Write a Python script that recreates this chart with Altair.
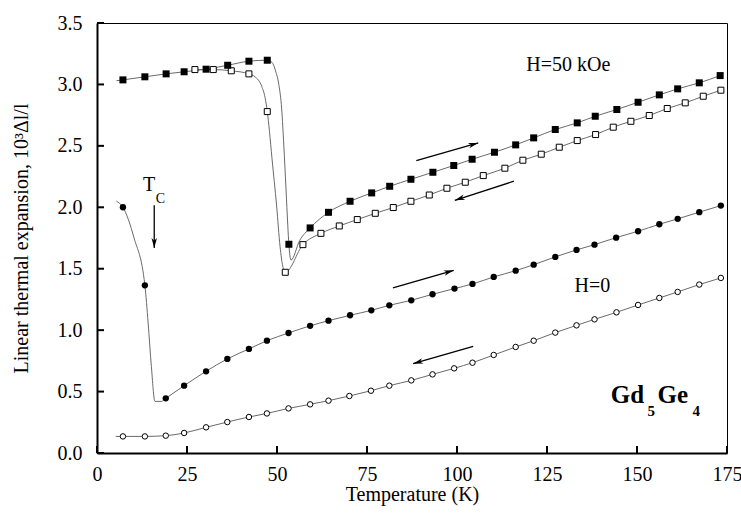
import math
import altair as alt
import pandas as pd

# ---------------- data ----------------
# H = 50 kOe, heating (filled squares)
h50_heat_T = [7.2, 13.3, 19.2, 24.2, 30.3, 36.3, 42.2, 47.3, 53.3, 59.2, 64.3, 70.3, 76.3, 81.3,
              87.2, 93.3, 99.1, 104.2, 110.4, 116.3, 121.3, 127.3, 133.4, 138.4, 144.4, 150.3,
              156.2, 161.3, 167.3, 173.1]
h50_heat_V = [3.037, 3.062, 3.086, 3.103, 3.124, 3.156, 3.189, 3.197, 1.699, 1.832, 1.959, 2.049,
              2.117, 2.171, 2.228, 2.285, 2.340, 2.391, 2.448, 2.508, 2.565, 2.633, 2.687, 2.741,
              2.796, 2.855, 2.915, 2.964, 3.013, 3.072]
# H = 50 kOe, cooling (open squares)
h50_cool_T = [27.2, 32.3, 37.3, 42.2, 47.3, 52.3, 57.2, 62.2, 67.3, 72.3, 77.3, 82.3, 87.2, 92.3,
              97.2, 102.3, 107.3, 113.3, 118.3, 123.4, 128.4, 133.4, 138.5, 143.4, 148.3, 153.4,
              158.4, 163.4, 168.4, 173.3]
h50_cool_V = [3.121, 3.121, 3.111, 3.086, 2.779, 1.471, 1.696, 1.788, 1.848, 1.900, 1.951, 1.998,
              2.049, 2.100, 2.155, 2.204, 2.258, 2.318, 2.383, 2.432, 2.489, 2.543, 2.592, 2.652,
              2.700, 2.747, 2.804, 2.850, 2.904, 2.953]
# H = 0, heating (filled circles)
h0_heat_T = [7.2, 13.3, 19.1, 24.2, 30.3, 36.2, 42.2, 47.2, 53.2, 59.2, 64.3, 70.3, 76.2, 81.2,
             87.3, 93.2, 99.3, 104.3, 110.2, 116.3, 121.3, 127.3, 133.2, 138.2, 144.2, 150.3,
             156.2, 161.3, 167.3, 173.3]
h0_heat_V = [2.000, 1.365, 0.445, 0.548, 0.665, 0.766, 0.847, 0.914, 0.977, 1.035, 1.077, 1.121,
             1.161, 1.202, 1.243, 1.292, 1.338, 1.376, 1.433, 1.484, 1.533, 1.596, 1.653, 1.696,
             1.753, 1.805, 1.862, 1.906, 1.960, 2.014]
# H = 0, cooling (open circles)
h0_cool_T = [7.2, 13.3, 19.1, 24.2, 30.3, 36.2, 42.2, 47.2, 53.2, 59.2, 64.3, 70.1, 76.1, 81.2,
             87.3, 93.2, 99.2, 104.3, 110.2, 116.3, 121.3, 127.3, 133.2, 138.2, 144.3, 150.3,
             156.2, 161.3, 167.3, 173.3]
h0_cool_V = [0.135, 0.135, 0.141, 0.163, 0.209, 0.252, 0.293, 0.322, 0.363, 0.396, 0.426, 0.464,
             0.507, 0.548, 0.591, 0.640, 0.689, 0.735, 0.798, 0.863, 0.914, 0.980, 1.039, 1.088,
             1.145, 1.205, 1.262, 1.311, 1.371, 1.425]

# extra vertices of the fitted guide curves
h50_heat_curve_T = [5.4, 48.6, 49.6, 50.5, 51.3, 51.9, 52.5, 53.0, 53.9, 56.3]
h50_heat_curve_V = [3.030, 3.180, 3.110, 3.000, 2.800, 2.500, 2.150, 1.850, 1.570, 1.730]
h50_cool_curve_T = [43.9, 45.75, 46.7, 47.9, 48.6, 49.9, 50.85, 51.6]
h50_cool_curve_V = [3.062, 2.985, 2.891, 2.620, 2.400, 2.010, 1.680, 1.520]
h0_heat_curve_T = [5.4, 10.3, 14.2, 15.1, 16.1, 17.9]
h0_heat_curve_V = [2.050, 1.750, 1.060, 0.705, 0.420, 0.420]
h0_cool_curve_T = [5.2]
h0_cool_curve_V = [0.135]

# arrows (start -> end)
arrow_T = [88.7, 115.8, 82.2, 104.5, 15.9]
arrow_V = [2.380, 2.212, 1.344, 0.868, 2.016]
arrow_T2 = [105.9, 99.4, 99.1, 87.8, 15.9]
arrow_V2 = [2.524, 2.057, 1.487, 0.727, 1.669]

x_ticks = [0, 25, 50, 75, 100, 125, 150, 175]
y_ticks = [0.0, 0.5, 1.0, 1.5, 2.0, 2.5, 3.0, 3.5]

# ---------------- layout ----------------
W, H = 630, 430
XMAX, YMAX = 175, 3.5
FONT = "Liberation Serif"
LINE_C = "#6a6a6a"
FS = 20
TICK = 7  # px
kx, ky = W / XMAX, H / YMAX

xs = alt.Scale(domain=[0, XMAX], nice=False, zero=False)
ys = alt.Scale(domain=[0, YMAX], nice=False, zero=False)

ax_bottom = alt.Axis(orient="bottom", values=x_ticks, ticks=False, tickSize=0, grid=False,
                     domain=True, domainColor="black", domainWidth=2,
                     labelFont=FONT, labelFontSize=FS, labelColor="black", labelPadding=11,
                     labelFlush=False,
                     title="Temperature (K)", titleFont=FONT, titleFontSize=FS,
                     titleFontWeight="normal", titleColor="black",
                     titleX=W / 2, titleY=47, titleBaseline="alphabetic", titleAlign="center")
ax_left = alt.Axis(orient="left", values=y_ticks, format=".1f", ticks=False, tickSize=0, grid=False,
                   domain=True, domainColor="black", domainWidth=2,
                   labelFont=FONT, labelFontSize=FS, labelColor="black", labelPadding=15,
                   labelFlush=False,
                   title="Linear thermal expansion, 10³Δl/l", titleFont=FONT, titleFontSize=FS,
                   titleFontWeight="normal", titleColor="black",
                   titleX=-76, titleY=H / 2, titleAngle=270, titleBaseline="middle",
                   titleAlign="center")


def pts(T, V):
    return pd.DataFrame({"T": T, "V": V})


def curve(T, V, cT, cV):
    return pd.DataFrame({"T": list(T) + list(cT), "V": list(V) + list(cV)}).sort_values("T")


# every layer carries the same axis definition, so the shared axes merge cleanly
def X(field="T:Q"):
    return alt.X(field, scale=xs, axis=ax_bottom)


def Y(field="V:Q"):
    return alt.Y(field, scale=ys, axis=ax_left)


line_kw = dict(interpolate="monotone", color=LINE_C, strokeWidth=1)

l1 = alt.Chart(curve(h0_cool_T, h0_cool_V, h0_cool_curve_T, h0_cool_curve_V)).mark_line(**line_kw).encode(
    x=X(), y=Y())
l2 = alt.Chart(curve(h0_heat_T, h0_heat_V, h0_heat_curve_T, h0_heat_curve_V)).mark_line(**line_kw).encode(
    x=X(), y=Y())
l3 = alt.Chart(curve(h50_cool_T, h50_cool_V, h50_cool_curve_T, h50_cool_curve_V)).mark_line(**line_kw).encode(
    x=X(), y=Y())
l4 = alt.Chart(curve(h50_heat_T, h50_heat_V, h50_heat_curve_T, h50_heat_curve_V)).mark_line(**line_kw).encode(
    x=X(), y=Y())

# inward tick marks on the bottom and left edges (length TICK px, expressed in data units)
xt_df = pd.DataFrame({"T": x_ticks, "V": [0.0] * len(x_ticks), "V2": [TICK / ky] * len(x_ticks)})
yt_df = pd.DataFrame({"V": y_ticks, "T": [0.0] * len(y_ticks), "T2": [TICK / kx] * len(y_ticks)})
xtick_marks = alt.Chart(xt_df).mark_rule(color="black", strokeWidth=2).encode(
    x=X(), y=Y(), y2="V2:Q")
ytick_marks = alt.Chart(yt_df).mark_rule(color="black", strokeWidth=2).encode(
    y=Y(), x=X(), x2="T2:Q")

p_h50_cool = alt.Chart(pts(h50_cool_T, h50_cool_V)).mark_point(
    shape="square", filled=True, fill="white", stroke="black", strokeWidth=1, size=36, opacity=1).encode(x=X(), y=Y())
p_h50_heat = alt.Chart(pts(h50_heat_T, h50_heat_V)).mark_point(
    shape="square", filled=True, color="black", size=49, opacity=1).encode(x=X(), y=Y())
p_h0_cool = alt.Chart(pts(h0_cool_T, h0_cool_V)).mark_point(
    shape="circle", filled=True, fill="white", stroke="black", strokeWidth=1, size=30, opacity=1).encode(x=X(), y=Y())
p_h0_heat = alt.Chart(pts(h0_heat_T, h0_heat_V)).mark_point(
    shape="circle", filled=True, color="black", size=40, opacity=1).encode(x=X(), y=Y())

# arrows
arr = pd.DataFrame({"T": arrow_T, "V": arrow_V, "T2": arrow_T2, "V2": arrow_V2})
arr["ang"] = [(math.degrees(math.atan2(-(v2 - v1) * ky, (t2 - t1) * kx)) + 360) % 360
              for t1, v1, t2, v2 in zip(arrow_T, arrow_V, arrow_T2, arrow_V2)]
shafts = alt.Chart(arr).mark_rule(color="black", strokeWidth=1.3).encode(
    x=X(), y=Y(), x2="T2:Q", y2="V2:Q")
heads = alt.Chart(arr).mark_point(
    shape="M0,0 L-2,-0.55 L-1.45,0 L-2,0.55 Z", filled=True, color="black", size=100, opacity=1
).encode(x=X("T2:Q"), y=Y("V2:Q"), angle=alt.Angle("ang:Q", scale=None))


def label(text, t, v, size, weight="normal", align="left"):
    return alt.Chart(pd.DataFrame({"T": [t], "V": [v]})).mark_text(
        text=text, font=FONT, fontSize=size, fontWeight=weight,
        align=align, baseline="alphabetic", color="black").encode(x=X(), y=Y())


texts = [
    label("H=50 kOe", 130.9, 3.109, 20, align="center"),
    label("H=0", 137.6, 1.313, 20, align="center"),
    label("T", 12.8, 2.13, 20),
    label("C", 16.3, 2.036, 14),
    label("Gd", 142.7, 0.407, 25, "bold"),
    label("5", 152.9, 0.298, 15, "bold"),
    label("Ge", 155.7, 0.407, 25, "bold"),
    label("4", 165.4, 0.298, 15, "bold"),
]

chart = alt.layer(
    l1, l2, l3, l4, shafts, heads,
    p_h50_cool, p_h50_heat, p_h0_cool, p_h0_heat, *texts, xtick_marks, ytick_marks
).properties(
    width=W, height=H,
    autosize=alt.AutoSizeParams(type="none"),
    padding={"left": 97, "top": 23, "right": 14, "bottom": 62},
    background="white",
).configure_view(stroke="black", strokeWidth=1)

chart.save("out.html", embed_options={"renderer": "svg", "actions": False})
